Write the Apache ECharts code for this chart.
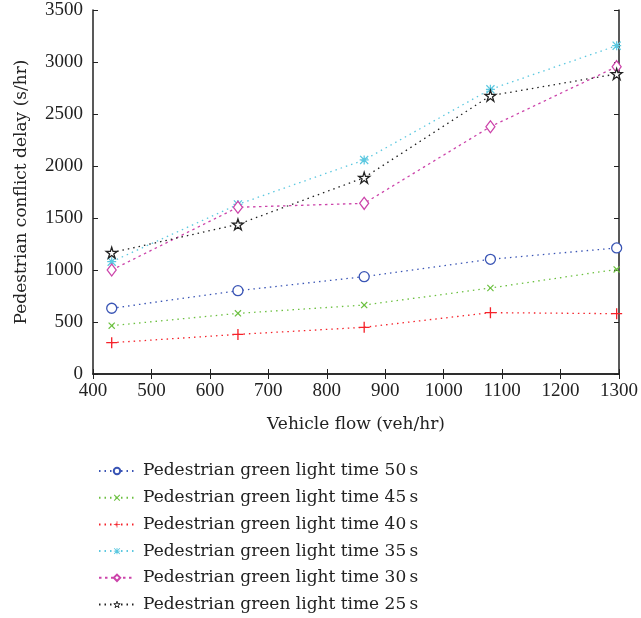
<!DOCTYPE html>
<html><head><meta charset="utf-8">
<script src="https://cdn.jsdelivr.net/npm/echarts@6/dist/echarts.min.js"></script>
<style>html,body{margin:0;padding:0;background:#fff}#c{width:641px;height:618px}</style>
</head><body><div id="c"></div>
<script>
var vehicleFlow = [432, 648, 864, 1080, 1296];
var g50 = [632, 801, 936, 1103, 1212];
var g45 = [465, 583, 663, 827, 1006];
var g40 = [301, 381, 449, 590, 580];
var g35 = [1080, 1631, 2058, 2737, 3157];
var g30 = [1000, 1603, 1641, 2378, 2955];
var g25 = [1167, 1439, 1888, 2676, 2885];
var seriesNames = ['Pedestrian green light time 50\u2009s','Pedestrian green light time 45\u2009s','Pedestrian green light time 40\u2009s','Pedestrian green light time 35\u2009s','Pedestrian green light time 30\u2009s','Pedestrian green light time 25\u2009s'];

var FONT = 'DejaVu Serif';
var TFONT = 'Liberation Serif';
var xMark = 'path://M0,1.2 L1.2,0 L5,3.8 L8.8,0 L10,1.2 L6.2,5 L10,8.8 L8.8,10 L5,6.2 L1.2,10 L0,8.8 L3.8,5 Z';
var plusMark = 'path://M4.4,0 L5.6,0 L5.6,4.4 L10,4.4 L10,5.6 L5.6,5.6 L5.6,10 L4.4,10 L4.4,5.6 L0,5.6 L0,4.4 L4.4,4.4 Z';
var astMark = 'path://M4.3,0 L5.7,0 L5.7,4.3 L10,4.3 L10,5.7 L5.7,5.7 L5.7,10 L4.3,10 L4.3,5.7 L0,5.7 L0,4.3 L4.3,4.3 Z M1,0 L5,4 L9,0 L10,1 L6,5 L10,9 L9,10 L5,6 L1,10 L0,9 L4,5 L0,1 Z';
var starMark = 'path://M5,0 L6.18,3.62 L10,3.62 L6.91,5.86 L8.09,9.5 L5,7.25 L1.91,9.5 L3.09,5.86 L0,3.62 L3.82,3.62 Z';

function pairs(ys){ return vehicleFlow.map(function(x,i){return [x, ys[i]];}); }
function mk(name, ys, color, symbol, size, dash, hollow){
  return {
    name: name, type: 'line', data: pairs(ys), symbol: symbol, symbolSize: size,
    showAllSymbol: true,
    lineStyle: {color: color, width: 1.3, type: dash},
    itemStyle: hollow ? {color: '#fff', borderColor: color, borderWidth: 1.3} : {color: color, borderWidth: 0},
    emphasis: {disabled: true}, z: 3
  };
}
var axisLineStyle = {color: '#222', width: 1.5};
var tickStyle = {show: true, inside: true, length: 5, lineStyle: {color: '#222', width: 1}};
var legendData = seriesNames.map(function(n, i){
  if (i === 5) return {name: n, itemStyle: {color: '#fff', borderColor: '#222', borderWidth: 1}};
  return {name: n};
});
var chart = echarts.init(document.getElementById('c'), null, {renderer: 'canvas'});
chart.setOption({
  animation: false,
  textStyle: {fontFamily: FONT},
  grid: {left: 93, right: 20, top: 10, bottom: 244, containLabel: false},
  xAxis: [{
    type: 'value', min: 400, max: 1300, interval: 100, position: 'bottom',
    name: 'Vehicle flow (veh/hr)', nameLocation: 'middle', nameGap: 42,
    nameTextStyle: {fontFamily: FONT, fontSize: 17, color: '#222'},
    axisLine: {show: true, lineStyle: axisLineStyle},
    axisTick: tickStyle,
    axisLabel: {fontFamily: TFONT, fontSize: 19, color: '#222', margin: 8, formatter: function(v){return String(v);}},
    splitLine: {show: false}
  }, {
    type: 'value', min: 400, max: 1300, interval: 100, position: 'top',
    axisLine: {show: true, lineStyle: axisLineStyle},
    axisTick: tickStyle,
    axisLabel: {show: false}, splitLine: {show: false}
  }],
  yAxis: [{
    type: 'value', min: 0, max: 3500, interval: 500, position: 'left',
    name: 'Pedestrian conflict delay (s/hr)', nameLocation: 'middle', nameGap: 63,
    nameTextStyle: {fontFamily: FONT, fontSize: 17, color: '#222'},
    axisLine: {show: true, lineStyle: axisLineStyle},
    axisTick: tickStyle,
    axisLabel: {fontFamily: TFONT, fontSize: 19, color: '#222', margin: 10, formatter: function(v){return String(v);}},
    splitLine: {show: false}
  }, {
    type: 'value', min: 0, max: 3500, interval: 500, position: 'right',
    axisLine: {show: true, lineStyle: axisLineStyle},
    axisTick: tickStyle,
    axisLabel: {show: false}, splitLine: {show: false}
  }],
  legend: {
    orient: 'vertical', left: 93, top: 456, height: 400, itemWidth: 36, itemHeight: 8, itemGap: 6.7,
    textStyle: {fontFamily: FONT, fontSize: 17, lineHeight: 20, color: '#222', padding: [0, 0, 0, 3]},
    data: legendData
  },
  series: [
    mk(seriesNames[0], g50, '#3a55b5', 'circle', 10, [1.5, 4], true),
    mk(seriesNames[1], g45, '#6cc040', xMark, 7, [1.5, 4], false),
    mk(seriesNames[2], g40, '#f5222a', plusMark, 11, [1.5, 4], false),
    mk(seriesNames[3], g35, '#5cc8e0', astMark, 9, [1.5, 4], false),
    mk(seriesNames[4], g30, '#cc44aa', 'diamond', [9, 12], [2.5, 3.5], true),
    mk(seriesNames[5], g25, '#222222', starMark, 11, [1.5, 4], true)
  ]
});
</script></body></html>
